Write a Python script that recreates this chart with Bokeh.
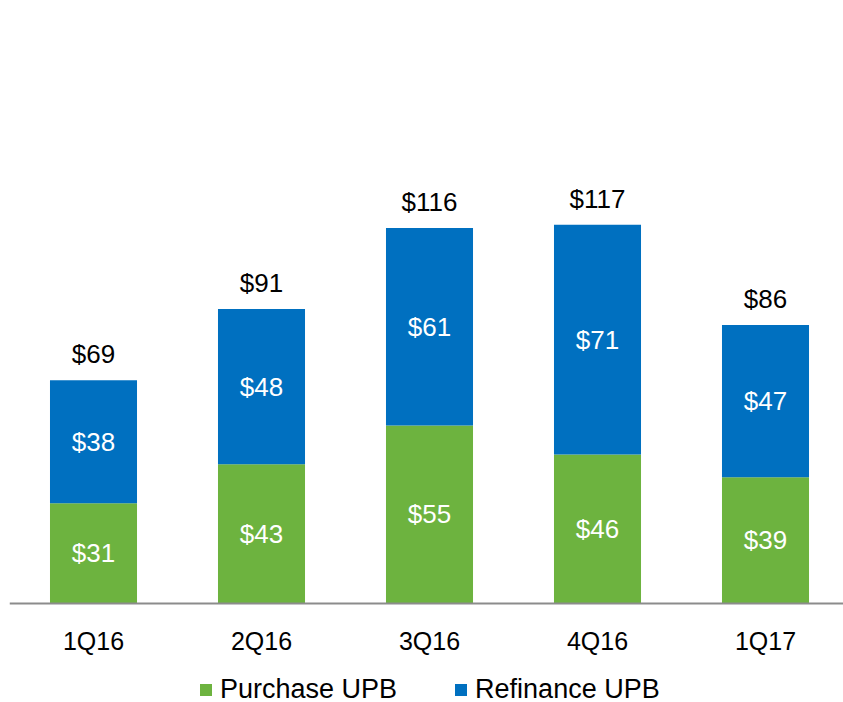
from bokeh.plotting import figure
from bokeh.models import ColumnDataSource, Range1d, FactorRange, Legend, LegendItem
from bokeh.embed import file_html
from bokeh.resources import INLINE
from bokeh.core.properties import value

quarters = ["1Q16", "2Q16", "3Q16", "4Q16", "1Q17"]
purchase = [31, 43, 55, 46, 39]
refinance = [38, 48, 61, 71, 47]

GREEN = "#6DB33F"
BLUE = "#0070C0"
FONT = "Liberation Sans"

totals = [a + b for a, b in zip(purchase, refinance)]
src = ColumnDataSource(dict(
    q=quarters,
    purchase=purchase,
    refinance=refinance,
    total=totals,
    pmid=[a / 2 for a in purchase],
    rmid=[a + b / 2 for a, b in zip(purchase, refinance)],
    plab=["$%d" % v for v in purchase],
    rlab=["$%d" % v for v in refinance],
    tlab=["$%d" % v for v in totals],
))

p = figure(
    width=849, height=702,
    x_range=FactorRange(*quarters, range_padding=0),
    y_range=Range1d(-30.6, 186.3),
    y_axis_location=None,
    output_backend="svg", toolbar_location=None,
    min_border_left=9, min_border_right=0, min_border_top=0, min_border_bottom=0,
)
p.outline_line_color = None
p.xgrid.visible = False
p.ygrid.visible = False

r = p.vbar_stack(["purchase", "refinance"], x="q", width=0.518, source=src,
                 color=[GREEN, BLUE], line_color=None)

for ycol, tcol in (("pmid", "plab"), ("rmid", "rlab")):
    p.text(x="q", y=ycol, text=tcol, source=src, text_color="white",
           text_font=value(FONT), text_font_size="26px",
           text_align="center", text_baseline="middle")
p.text(x="q", y="total", text="tlab", source=src, text_color="black",
       text_font=value(FONT), text_font_size="26px",
       text_align="center", text_baseline="alphabetic", y_offset=-26)

ax = p.xaxis[0]
ax.fixed_location = 0
ax.axis_line_color = "#8C8C8C"
ax.axis_line_width = 2
ax.major_tick_line_color = None
ax.minor_tick_line_color = None
ax.major_label_text_font = FONT
ax.major_label_text_font_size = "25px"
ax.major_label_text_color = "black"
ax.major_label_standoff = 18

legend = Legend(items=[LegendItem(label="Purchase UPB", renderers=[r[0]]),
                       LegendItem(label="Refinance UPB", renderers=[r[1]])],
                orientation="horizontal", location=(189, -3))
legend.label_text_font = FONT
legend.label_text_font_size = "27px"
legend.label_text_color = "black"
legend.glyph_width = 15
legend.glyph_height = 15
legend.label_height = 30
legend.label_standoff = 7
legend.spacing = 56
legend.padding = 0
legend.margin = 0
legend.border_line_color = None
legend.background_fill_alpha = 0
p.add_layout(legend, "center")

html = file_html(p, INLINE)
html = html.replace("</head>", "<style>html, body { overflow: hidden; }</style></head>", 1)
open("out.html", "w").write(html)
